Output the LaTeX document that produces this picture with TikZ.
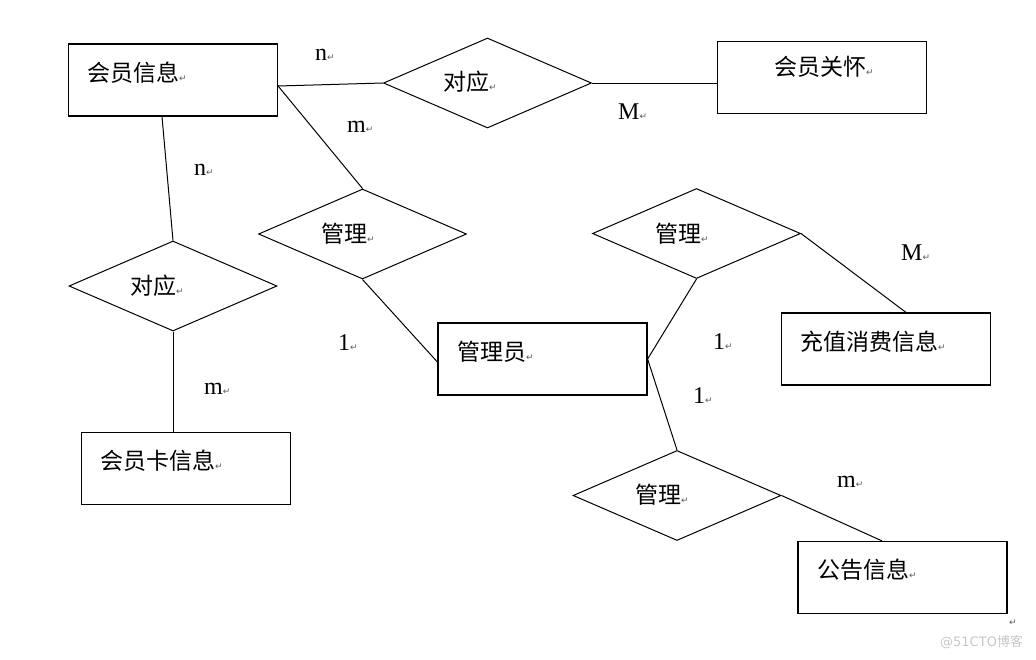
\documentclass[tikz,border=0pt]{standalone}
\usepackage{fontspec}
\setmainfont{Liberation Serif}
\newfontfamily\cjk{Noto Sans CJK SC}
\newfontfamily\dvfont{DejaVu Sans}
\usetikzlibrary{shapes.geometric}
\newcommand\rt{{\dvfont\fontsize{9}{9}\selectfont\color{black!65}↵}}
\begin{document}
\begin{tikzpicture}[x=1pt,y=-1pt,
  ent/.style={draw, line width=1.2pt, minimum width=209pt, minimum height=72pt, inner sep=0pt},
  rel/.style={diamond, draw, line width=1pt, minimum width=208pt, minimum height=90pt, inner sep=0pt},
  etxt/.style={anchor=west, inner sep=0pt, font=\cjk\fontsize{23}{23}\selectfont},
  card/.style={anchor=west, inner sep=0pt, font=\fontsize{24}{24}\selectfont},
  conn/.style={line width=1pt}]
\useasboundingbox (0,0) rectangle (1036,659);
% entities
\node[ent] (hy)  at (173,80) {};
\node[ent] (gh)  at (822,77.5) {};
\node[ent] (adm) at (542.5,359) {};
\node[ent] (cz)  at (886,349) {};
\node[ent] (hk)  at (186,468.5) {};
\node[ent] (gg)  at (902.5,577.5) {};
% relationships
\node[rel] (d1) at (487.5,83) {};
\node[rel] (d2) at (362.5,234) {};
\node[rel] (d3) at (173,286) {};
\node[rel] (d4) at (696.5,233.5) {};
\node[rel] (d5) at (677,495.5) {};
% texts
\node[etxt] (thy)  at (87,73)  {会员信息\rt};
\node[etxt] (tgh)  at (774,67) {会员关怀\rt};
\node[etxt] (tadm) at (457,352) {管理员\rt};
\node[etxt] (tcz)  at (800,342) {充值消费信息\rt};
\node[etxt] (thk)  at (100,461) {会员卡信息\rt};
\node[etxt] (tgg)  at (817,570) {公告信息\rt};
\node[etxt] (td1)  at (443,82) {对应\rt};
\node[etxt] (td2)  at (321,234) {管理\rt};
\node[etxt] (td3)  at (130,286) {对应\rt};
\node[etxt] (td4)  at (655,234) {管理\rt};
\node[etxt] (td5)  at (635,495) {管理\rt};
% connectors
\draw[conn] ([yshift=-6pt]hy.east) -- (d1.west);
\draw[conn] (d1.east) -- ([yshift=-5.5pt]gh.west);
\draw[conn] ([yshift=-6pt]hy.east) -- (d2.north);
\draw[conn] ([xshift=-11pt]hy.south) -- (d3.north);
\draw[conn] (d3.south) -- (d3.south |- hk.north);
\draw[conn] (d2.south) -- ([yshift=-3pt]adm.west);
\draw[conn] (adm.east) -- (d4.south);
\draw[conn] (adm.east) -- (d5.north);
\draw[conn] (d4.east) -- ([xshift=20pt]cz.north);
\draw[conn] (d5.east) -- ([xshift=-20.5pt]gg.north);
% cardinalities
\node[card] (c1) at (315,55)  {n\rt};
\node[card] (c2) at (618,112) {M\rt};
\node[card] (c3) at (347,127) {m\rt};
\node[card] (c4) at (194,170) {n\rt};
\node[card] (c5) at (204,389) {m\rt};
\node[card] (c6) at (338,343) {1\rt};
\node[card] (c7) at (713,342) {1\rt};
\node[card] (c8) at (693,396) {1\rt};
\node[card] (c9) at (901,253) {M\rt};
\node[card] (c10) at (837,482) {m\rt};
% trailing mark and watermark
\node[inner sep=0pt] (endmark) at (1013,623) {\rt};
\node[anchor=west, inner sep=0pt, text=black!22, font=\dvfont\fontsize{13}{13}\selectfont] (wm) at (940,642) {@51CTO{\cjk 博客}};
\end{tikzpicture}
\end{document}
